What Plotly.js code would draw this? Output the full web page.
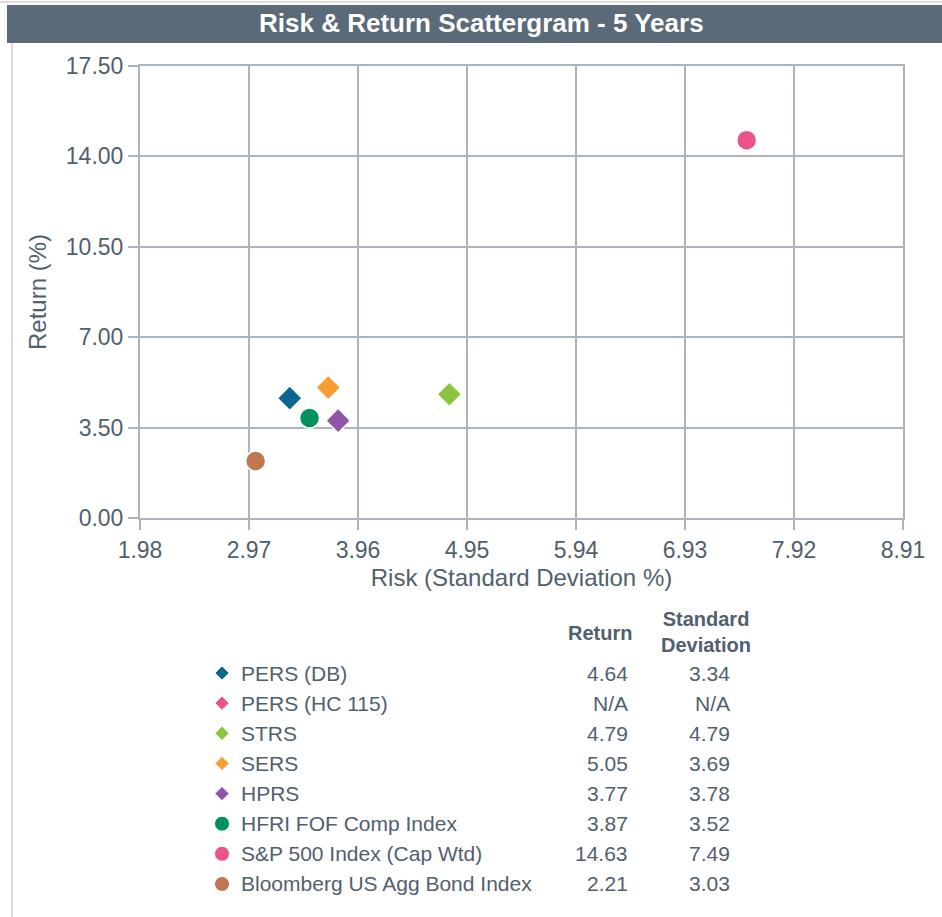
<!DOCTYPE html>
<html>
<head>
<meta charset="utf-8">
<script src="https://cdn.plot.ly/plotly-3.0.1.min.js"></script>
<style>html,body{margin:0;padding:0;background:#fff;}#chart{width:942px;height:917px;}</style>
</head>
<body>
<div id="chart"></div>
<script>
// ---- data ----
var seriesNames = ['PERS (DB)', 'PERS (HC 115)', 'STRS', 'SERS', 'HPRS', 'HFRI FOF Comp Index', 'S&P 500 Index (Cap Wtd)', 'Bloomberg US Agg Bond Index'];
var returnsPct = [4.64, null, 4.79, 5.05, 3.77, 3.87, 14.63, 2.21];
var stdDevPct = [3.34, null, 4.79, 3.69, 3.78, 3.52, 7.49, 3.03];
var seriesSymbols = ['diamond', 'diamond', 'diamond', 'diamond', 'diamond', 'circle', 'circle', 'circle'];
var seriesColors = ['#0b6790', '#ec5489', '#8dc43f', '#f99d33', '#9155a5', '#00925a', '#ec5489', '#c07751'];
var xTickVals = [1.98, 2.97, 3.96, 4.95, 5.94, 6.93, 7.92, 8.91];
var yTickVals = [0.00, 3.50, 7.00, 10.50, 14.00, 17.50];
var chartTitle = 'Risk & Return Scattergram - 5 Years';
var xTitle = 'Risk (Standard Deviation %)';
var yTitle = 'Return (%)';
var colHeaders = ['Return', 'Standard<br>Deviation'];

// ---- helpers (pixel -> paper) ----
var W = 942, H = 917;
function px(x) { return x / W; }
function py(y) { return 1 - y / H; }
function fmt(v) { return v === null ? 'N/A' : v.toFixed(2); }

var txt = '#51606e';
var grid = '#abb5bf';
var FONT = '"Liberation Sans", Arial, sans-serif';

var traces = [];
// main scatter: one trace per series
seriesNames.forEach(function (n, i) {
  var isDiamond = seriesSymbols[i] === 'diamond';
  traces.push({
    type: 'scatter', mode: 'markers', name: n,
    x: [stdDevPct[i]], y: [returnsPct[i]],
    xaxis: 'x', yaxis: 'y',
    marker: { symbol: seriesSymbols[i], color: seriesColors[i], opacity: 1, size: isDiamond ? 19 : 20, line: { color: '#ffffff', width: 1.5 } },
    showlegend: false, hoverinfo: 'skip', cliponaxis: false
  });
});
// table legend markers (ordinal rows on second axis)
traces.push({
  type: 'scatter', mode: 'markers',
  x: seriesNames.map(function () { return 222; }),
  y: seriesNames,
  xaxis: 'x2', yaxis: 'y2',
  marker: {
    symbol: seriesSymbols, color: seriesColors, opacity: 1,
    size: seriesSymbols.map(function (s) { return s === 'diamond' ? 11 : 15; }),
    line: { color: '#ffffff', width: 1 }
  },
  showlegend: false, hoverinfo: 'skip', cliponaxis: false
});

var annotations = [];
// title
annotations.push({ xref: 'paper', yref: 'paper', x: px(481), y: py(23), text: '<b>' + chartTitle + '</b>', showarrow: false,
  xanchor: 'center', yanchor: 'middle', font: { family: FONT, size: 26, color: '#ffffff' } });
// table headers
annotations.push({ xref: 'paper', yref: 'paper', x: px(600), y: py(633), text: '<b>' + colHeaders[0] + '</b>', showarrow: false,
  xanchor: 'center', yanchor: 'middle', font: { family: FONT, size: 20, color: txt } });
annotations.push({ xref: 'paper', yref: 'paper', x: px(706), y: py(632), text: '<b>' + colHeaders[1] + '</b>', showarrow: false,
  xanchor: 'center', yanchor: 'middle', align: 'center', font: { family: FONT, size: 20, color: txt } });
// table rows
seriesNames.forEach(function (n, i) {
  annotations.push({ xref: 'x2', yref: 'y2', x: 239, y: n, text: n, showarrow: false, xanchor: 'left', yanchor: 'middle',
    font: { family: FONT, size: 21, color: txt } });
  annotations.push({ xref: 'x2', yref: 'y2', x: 630, y: n, text: fmt(returnsPct[i]), showarrow: false, xanchor: 'right', yanchor: 'middle',
    font: { family: FONT, size: 21, color: txt } });
  annotations.push({ xref: 'x2', yref: 'y2', x: 732, y: n, text: fmt(stdDevPct[i]), showarrow: false, xanchor: 'right', yanchor: 'middle',
    font: { family: FONT, size: 21, color: txt } });
});

var layout = {
  width: W, height: H,
  margin: { l: 0, r: 0, t: 0, b: 0, pad: 0 },
  paper_bgcolor: '#ffffff', plot_bgcolor: '#ffffff',
  font: { family: FONT, color: txt },
  showlegend: false,
  xaxis: {
    domain: [px(140), px(903)], anchor: 'y',
    range: [xTickVals[0], xTickVals[xTickVals.length - 1]],
    tickmode: 'array', tickvals: xTickVals, ticktext: xTickVals.map(function (v) { return v.toFixed(2); }),
    showgrid: true, gridcolor: grid, gridwidth: 2,
    showline: true, mirror: true, linecolor: grid, linewidth: 2,
    ticks: 'outside', ticklen: 10, tickwidth: 2, tickcolor: grid,
    zeroline: false,
    tickfont: { family: FONT, size: 23, color: txt },
    title: { text: xTitle, font: { family: FONT, size: 24, color: txt }, standoff: 8 }
  },
  yaxis: {
    domain: [py(518), py(66)], anchor: 'x',
    range: [yTickVals[0], yTickVals[yTickVals.length - 1]],
    tickmode: 'array', tickvals: yTickVals, ticktext: yTickVals.map(function (v) { return v.toFixed(2); }),
    showgrid: true, gridcolor: grid, gridwidth: 2,
    showline: true, mirror: true, linecolor: grid, linewidth: 2,
    ticks: 'outside', ticklen: 10, tickwidth: 2, tickcolor: grid,
    zeroline: false,
    tickfont: { family: FONT, size: 23, color: txt },
    title: { text: yTitle, font: { family: FONT, size: 24, color: txt }, standoff: 12 }
  },
  xaxis2: { domain: [0, 1], anchor: 'y2', range: [0, W], visible: false, fixedrange: true },
  yaxis2: {
    domain: [py(899), py(658)], anchor: 'x2', type: 'category',
    categoryorder: 'array', categoryarray: seriesNames,
    range: [seriesNames.length - 0.5, -0.5], visible: false, fixedrange: true
  },
  shapes: [
    { type: 'rect', xref: 'paper', yref: 'paper', x0: px(7), x1: px(942), y0: py(43), y1: py(5), fillcolor: '#5a6a78', line: { width: 0 }, layer: 'below' },
    { type: 'line', xref: 'paper', yref: 'paper', x0: px(12), x1: px(12), y0: py(43), y1: py(917), line: { color: '#dddddd', width: 2 } },
    { type: 'line', xref: 'paper', yref: 'paper', x0: px(0), x1: px(942), y0: py(2), y1: py(2), line: { color: '#dddddd', width: 2 } }
  ],
  annotations: annotations
};

Plotly.newPlot('chart', traces, layout, { staticPlot: true, displayModeBar: false });
</script>
</body>
</html>
